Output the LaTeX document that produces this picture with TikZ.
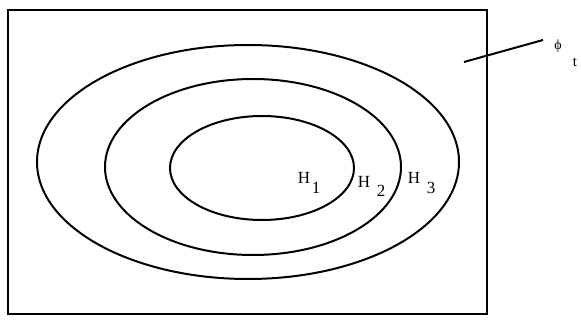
\documentclass[tikz,border=0pt]{standalone}
\usepackage{fontspec}
\setmainfont{Liberation Serif}
\begin{document}
\begin{tikzpicture}[x=1pt,y=-1pt,
  curve/.style={draw=black,line width=2pt},
  lab/.style={inner sep=0pt,font=\fontsize{17}{19}\selectfont},
  sub/.style={inner sep=0pt,font=\fontsize{17}{19}\selectfont}]
\useasboundingbox (0,0) rectangle (581,320);
\draw[curve] (8,10) rectangle (487,314);
\draw[curve] (248,162) ellipse [x radius=211, y radius=117];
\draw[curve] (253,167) ellipse [x radius=148, y radius=88];
\draw[curve] (262,168) ellipse [x radius=92, y radius=52];
\node[lab] (H1) at (304,178) {H};
\node[sub] (s1) at (316,188) {1};
\node[lab] (H2) at (364,182) {H};
\node[sub] (s2) at (381,191) {2};
\node[lab] (H3) at (414,178) {H};
\node[sub] (s3) at (431,188) {3};
\coordinate (p) at (464,62);
\node[inner sep=0pt,font=\fontsize{14}{16}\selectfont] (phi) at (558,46) {ϕ};
\node[sub,font=\fontsize{15}{17}\selectfont] (t) at (575,62) {t};
\draw[curve] (p) -- (543,40);
\end{tikzpicture}
\end{document}
